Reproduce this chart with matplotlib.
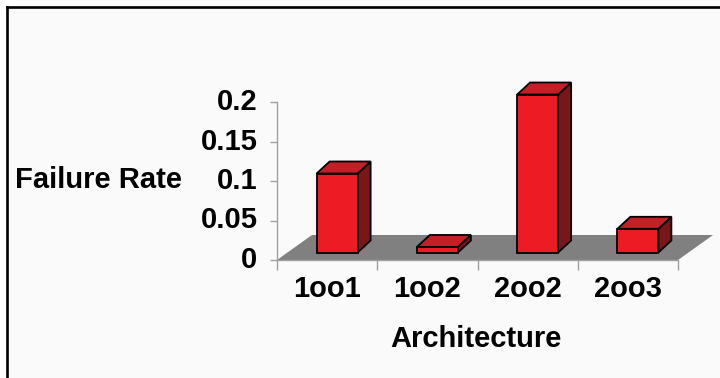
import matplotlib.pyplot as plt
from matplotlib.patches import Polygon, Rectangle
from matplotlib.lines import Line2D
from matplotlib.transforms import ScaledTranslation

plt.rcParams['font.family'] = ['Liberation Sans', 'DejaVu Sans']
plt.rcParams['font.weight'] = 'bold'

# failure rate of each voting architecture
architectures = ['1oo1', '1oo2', '2oo2', '2oo3']
failure_rates = [0.1, 0.007, 0.2, 0.03]
y_ticks = [0, 0.05, 0.1, 0.15, 0.2]
y_tick_labels = ['0', '0.05', '0.1', '0.15', '0.2']

W, H = 720, 378
fig = plt.figure(figsize=(W / 100, H / 100), dpi=100)
fig.patch.set_facecolor('white')

# light panel with a black frame on the top and left
fig.patches.append(Rectangle((7 / W, 0), 1, 1 - 7 / H, transform=fig.transFigure,
                             facecolor='#fafafa', edgecolor='none', zorder=-5))
fig.lines.append(Line2D([7 / W, 1], [1 - 7.3 / H, 1 - 7.3 / H], transform=fig.transFigure,
                        color='black', lw=1.9, zorder=-4))
fig.lines.append(Line2D([7 / W, 7 / W], [0, 1 - 7.3 / H], transform=fig.transFigure,
                        color='black', lw=1.9, zorder=-4))

# plot box: x from 277 to 678 px, y from 260 (zero) up to 102 (0.2)
x0, x1, y0, y1 = 277, 678, 260, 102
ax = fig.add_axes([x0 / W, (H - y0) / H, (x1 - x0) / W, (y0 - y1) / H])
ax.set_facecolor('none')
n = len(architectures)
ax.set_xlim(0, n)
ax.set_ylim(0, 0.2)

# pixel -> data unit factors
px_x = n / (x1 - x0)
px_y = 0.2 / (y0 - y1)

# grey floor seen in perspective
fdx, fdy = 35 * px_x, 25 * px_y
floor = Polygon([(0, 0), (n, 0), (n + fdx, fdy), (fdx, fdy)], closed=True,
                facecolor='#808080', edgecolor='none', clip_on=False, zorder=1)
ax.add_patch(floor)

# 3-D style bars
off_x, off_y = 10 * px_x, 7.5 * px_y      # front face offset into the floor
dep_x, dep_y = 13 * px_x, 12 * px_y       # bar depth
bw = 41 * px_x
front_c, top_c, side_c = '#ed1c24', '#c41f27', '#7a1518'
for i, v in enumerate(failure_rates):
    l = i + 0.5 - bw / 2 + off_x
    r = l + bw
    b = off_y
    t = b + v
    side = Polygon([(r, b), (r + dep_x, b + dep_y), (r + dep_x, t + dep_y), (r, t)],
                   facecolor=side_c, edgecolor='black', lw=1.3, clip_on=False,
                   joinstyle='miter', zorder=2)
    top = Polygon([(l, t), (r, t), (r + dep_x, t + dep_y), (l + dep_x, t + dep_y)],
                  facecolor=top_c, edgecolor='black', lw=1.3, clip_on=False,
                  joinstyle='miter', zorder=2)
    front = Polygon([(l, b), (r, b), (r, t), (l, t)],
                    facecolor=front_c, edgecolor='black', lw=1.3, clip_on=False,
                    joinstyle='miter', zorder=3)
    ax.add_patch(side)
    ax.add_patch(top)
    ax.add_patch(front)

for s in ['top', 'right']:
    ax.spines[s].set_visible(False)
for s in ['left', 'bottom']:
    ax.spines[s].set_color('#a0a0a0')
    ax.spines[s].set_linewidth(1.0)

ax.set_yticks(y_ticks)
ax.set_yticklabels(y_tick_labels, fontsize=21, fontweight='bold')
ax.tick_params(axis='y', direction='out', length=5, width=1, color='#a0a0a0', pad=9)
# value labels sit a little above their ticks
lift = ScaledTranslation(0, 3 / 100, fig.dpi_scale_trans)
for lbl in ax.get_yticklabels():
    lbl.set_transform(lbl.get_transform() + lift)

ax.set_xticks([i + 0.5 for i in range(n)])
ax.set_xticklabels(architectures, fontsize=21, fontweight='bold')
ax.set_xticks(range(n + 1), minor=True)
ax.tick_params(axis='x', which='major', length=0, pad=11)
ax.tick_params(axis='x', which='minor', direction='out', length=7, width=1, color='#a0a0a0')

fig.text(15 / W, 1 - 180 / H, 'Failure Rate', fontsize=21, fontweight='bold',
         ha='left', va='center')
fig.text(476 / W, 1 - 339 / H, 'Architecture', fontsize=21, fontweight='bold',
         ha='center', va='center')

fig.savefig('out.png', dpi=100)
